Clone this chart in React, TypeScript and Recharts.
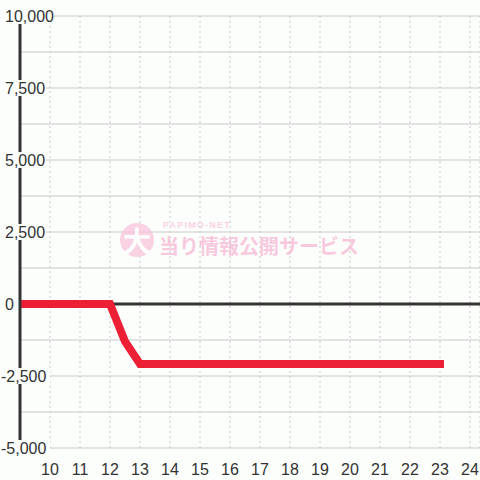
import { CartesianGrid, Line, LineChart, ReferenceLine, XAxis, YAxis } from 'recharts';

// Hourly balance chart — flat at zero until noon, then drops and stays.

const hours = [9, 10, 11, 12, 12.5, 13, 14, 15, 16, 17, 18, 19, 20, 21, 22, 23];
const balance = [0, 0, 0, 0, -1300, -2080, -2080, -2080, -2080, -2080, -2080, -2080, -2080, -2080, -2080, -2080];
const xTicks = [10, 11, 12, 13, 14, 15, 16, 17, 18, 19, 20, 21, 22, 23, 24];
const yTicks = [-5000, -3750, -2500, -1250, 0, 1250, 2500, 3750, 5000, 6250, 7500, 8750, 10000];

const rows = hours.map((h, i) => ({ hour: h, value: balance[i] }));

const FONT = '"Liberation Sans", Arial, sans-serif';

function YTick({ y, payload }: any) {
  const v = payload.value as number;
  if (v % 2500 !== 0) return null;
  const label = v.toLocaleString('en-US');
  const x = v < 0 ? 1 : 5;
  const w = label.length * 8;
  return (
    <g>
      <rect x={x - 1} y={y - 8} width={w + 2} height={16} fill="#fcfefc" />
      <text x={x} y={y} dy="0.35em" textAnchor="start" fontSize={16} fill="#333" fontFamily={FONT}>
        {label}
      </text>
    </g>
  );
}

function XTick({ x, y, payload }: any) {
  return (
    <text x={x} y={y + 13} dy="0.35em" textAnchor="middle" fontSize={16} fill="#333" fontFamily={FONT}>
      {payload.value}
    </text>
  );
}

function Watermark() {
  return (
    <div style={{ position: 'absolute', left: 0, top: 0, width: 480, height: 480, pointerEvents: 'none', opacity: 0.75 }}>
      <div style={{ position: 'absolute', left: 120, top: 223, width: 34, height: 34, borderRadius: 17, background: '#f9c4dc', color: '#fff', fontSize: 28, fontWeight: 700, lineHeight: '34px', textAlign: 'center', fontFamily: '"Noto Sans CJK JP", sans-serif' }}>
        大
      </div>
      <div style={{ position: 'absolute', left: 163, top: 220, fontSize: 9, fontWeight: 700, letterSpacing: 1.2, color: '#f9c4dc', fontFamily: FONT, lineHeight: '10px' }}>
        PAPIMO-NET
      </div>
      <div style={{ position: 'absolute', left: 159, top: 233, fontSize: 20, fontWeight: 700, color: '#f7b8d4', fontFamily: '"Noto Sans CJK JP", sans-serif', lineHeight: '26px', whiteSpace: 'nowrap' }}>
        当り情報公開サービス
      </div>
    </div>
  );
}

export default function App() {
  return (
    <div style={{ position: 'absolute', left: 0, top: 0, width: 480, height: 480, background: '#fcfefc' }}>
      <LineChart width={480} height={480} data={rows} margin={{ top: 16, right: 0, bottom: 0, left: 0 }}>
        <CartesianGrid horizontal vertical={false} stroke="#c8c8c8" strokeWidth={1} />
        <CartesianGrid horizontal={false} vertical stroke="#c8c8c8" strokeDasharray="2 3" />
        <XAxis
          type="number"
          dataKey="hour"
          domain={[9, 24.333]}
          ticks={xTicks}
          axisLine={false}
          tickLine={false}
          tick={<XTick />}
          height={32}
          allowDataOverflow
        />
        <YAxis
          type="number"
          domain={[-5000, 10000]}
          ticks={yTicks}
          width={20}
          axisLine={{ stroke: '#333', strokeWidth: 3 }}
          tickLine={false}
          tick={<YTick />}
          interval={0}
        />
        <ReferenceLine y={0} stroke="#333" strokeWidth={3} />
        <Line
          type="linear"
          dataKey="value"
          stroke="#ec1f35"
          strokeWidth={8}
          strokeLinecap="square"
          dot={false}
          activeDot={false}
          isAnimationActive={false}
        />
      </LineChart>
      <Watermark />
    </div>
  );
}
